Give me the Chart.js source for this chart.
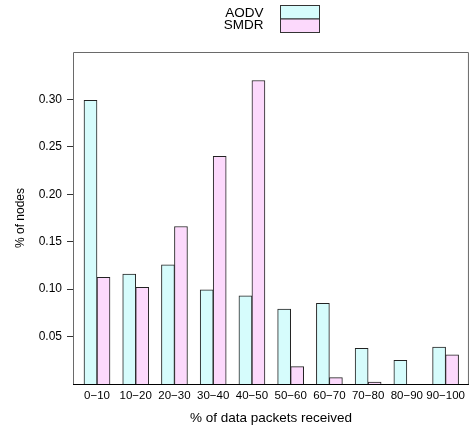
<!DOCTYPE html>
<html>
<head>
<meta charset="utf-8">
<script src="https://cdn.jsdelivr.net/npm/chart.js@4/dist/chart.umd.min.js"></script>
<style>
html,body{margin:0;padding:0;background:#fff;}
#wrap{width:470px;height:428px;position:relative;}
</style>
</head>
<body>
<div id="wrap"><canvas id="c" width="470" height="428"></canvas></div>
<script>
const categories = ["0\u221210","10\u221220","20\u221230","30\u221240","40\u221250","50\u221260","60\u221270","70\u221280","80\u221290","90\u2212100"];
const aodv = [0.299, 0.116, 0.1255, 0.0994, 0.093, 0.079, 0.085, 0.0377, 0.025, 0.0388];
const smdr = [0.1124, 0.102, 0.166, 0.240, 0.320, 0.0183, 0.0067, 0.002, 0, 0.0307];
const yTicks = [0.05, 0.10, 0.15, 0.20, 0.25, 0.30];
const seriesNames = ["AODV", "SMDR"];

const FONT = "'Liberation Sans', Arial, Helvetica, sans-serif";
const colors = ['#d6fcfc', '#fcd9fc'];

const framePlugin = {
  id: 'frame',
  afterDatasetsDraw(chart) {
    const {ctx, chartArea: a} = chart;
    ctx.save();
    ctx.lineWidth = 1;
    ctx.strokeStyle = '#6a6a6a';
    ctx.beginPath();
    ctx.moveTo(a.left + 0.5, a.bottom);
    ctx.lineTo(a.left + 0.5, a.top + 0.5);
    ctx.lineTo(a.right - 0.5, a.top + 0.5);
    ctx.lineTo(a.right - 0.5, a.bottom);
    ctx.stroke();
    ctx.strokeStyle = '#000';
    ctx.beginPath();
    ctx.moveTo(a.left, a.bottom + 0.5);
    ctx.lineTo(a.right, a.bottom + 0.5);
    ctx.stroke();
    // legend
    ctx.font = '13.5px ' + FONT;
    ctx.fillStyle = '#000';
    ctx.textAlign = 'right';
    ctx.textBaseline = 'middle';
    const rows = [13, 25.5];
    seriesNames.forEach((n, i) => {
      ctx.fillText(n, 263.5, rows[i]);
    });
    const boxes = [[5.5, 13.5], [19, 13.5]];
    boxes.forEach((b, i) => {
      ctx.fillStyle = chart.data.datasets[i].backgroundColor;
      ctx.fillRect(280.5, b[0], 39, b[1]);
      ctx.strokeStyle = '#333';
      ctx.strokeRect(280.5, b[0], 39, b[1]);
    });
    ctx.restore();
  }
};

new Chart(document.getElementById('c'), {
  type: 'bar',
  data: {
    datasets: [
      { label: seriesNames[0], data: aodv.map((v, i) => ({x: i, y: v})), backgroundColor: colors[0], borderColor: '#222', borderWidth: 1, barThickness: 13 },
      { label: seriesNames[1], data: smdr.map((v, i) => ({x: i, y: v})), backgroundColor: colors[1], borderColor: '#222', borderWidth: 1, barThickness: 13 }
    ]
  },
  options: {
    responsive: false,
    animation: false,
    devicePixelRatio: 1,
    layout: { padding: { top: 52, right: 1, left: 0, bottom: 0 } },
    plugins: { legend: { display: false }, tooltip: { enabled: false } },
    scales: {
      x: {
        type: 'linear',
        offset: false,
        min: -0.6195,
        max: 9.603,
        grid: { display: false, offset: false, drawTicks: false },
        border: { display: false },
        afterBuildTicks: (ax) => { ax.ticks = categories.map((_, i) => ({value: i})); },
        afterFit: (ax) => { ax.height = 44; },
        ticks: {
          autoSkip: false, maxRotation: 0, padding: 5,
          font: { family: FONT, size: 11.5 }, color: '#000',
          callback: (v) => categories[v]
        },
        title: { display: true, text: '% of data packets received', font: { family: FONT, size: 13.5 }, color: '#000', padding: { top: 0, bottom: 2 } }
      },
      y: {
        min: 0, max: 0.35,
        grid: { drawOnChartArea: false, drawTicks: true, tickLength: 6, color: '#333' },
        border: { display: false },
        afterBuildTicks: (ax) => { ax.ticks = yTicks.map(v => ({value: v})); },
        afterFit: (ax) => { ax.width = 73; },
        ticks: {
          padding: 5,
          font: { family: FONT, size: 12 }, color: '#000',
          callback: (v) => Number(v).toFixed(2)
        },
        title: { display: true, text: '% of nodes', font: { family: FONT, size: 12 }, color: '#000', padding: { top: 13, bottom: 0 } }
      }
    }
  },
  plugins: [framePlugin]
});
</script>
</body>
</html>
